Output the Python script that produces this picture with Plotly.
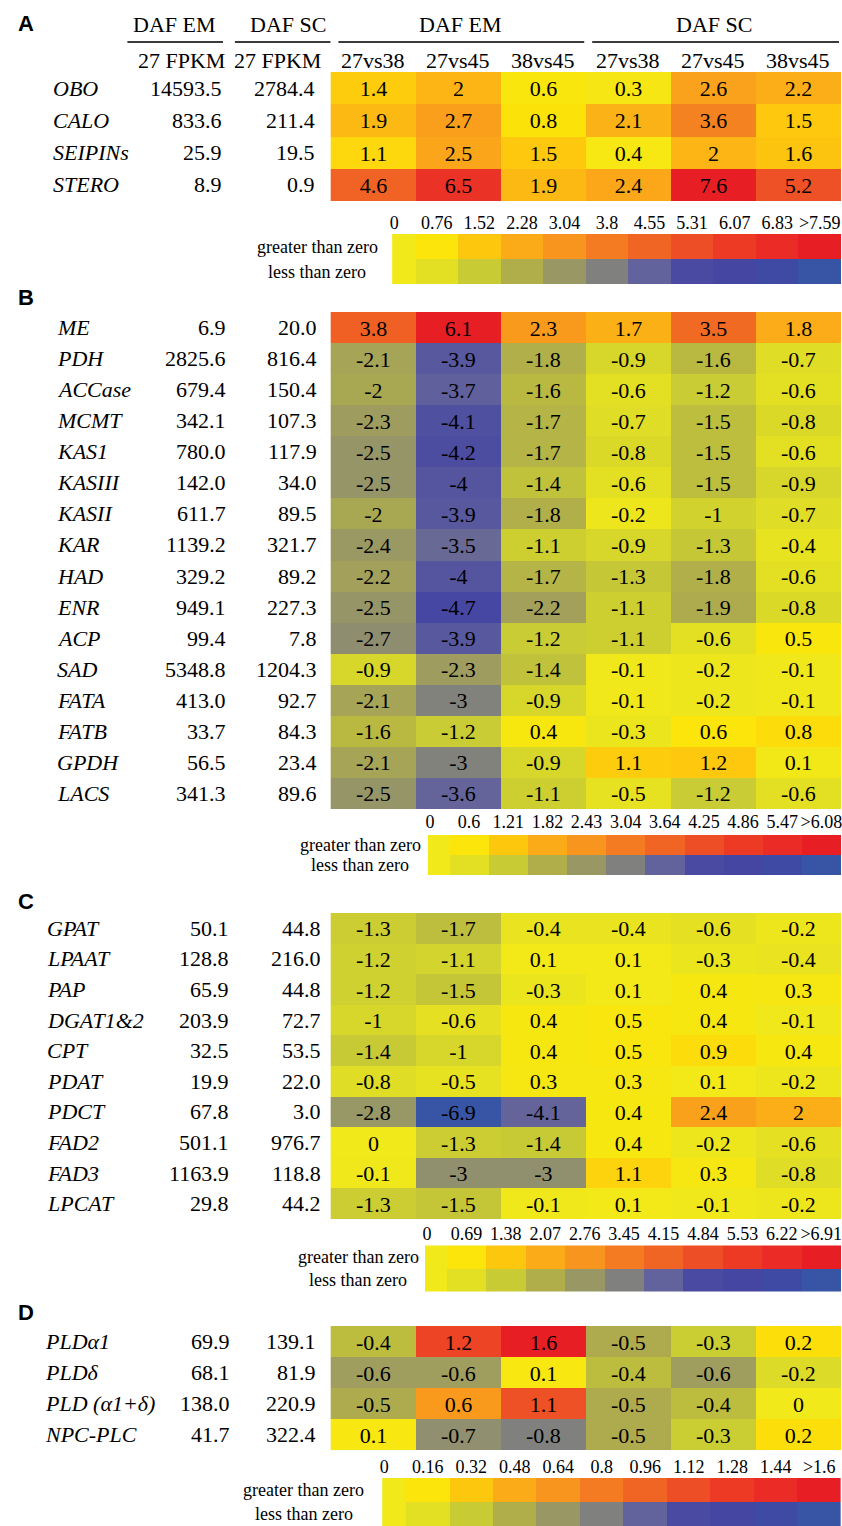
import plotly.graph_objects as go

W, H = 842, 1526
SERIF = "Liberation Serif"
SANS = "Liberation Sans"

# ---------------- data ----------------
groups = ["EM", "EM", "EM", "SC", "SC", "SC"]
cols = ["27vs38", "27vs45", "38vs45", "27vs38", "27vs45", "38vs45"]

a_genes = ["OBO", "CALO", "SEIPINs", "STERO"]
a_em = ["14593.5", "833.6", "25.9", "8.9"]
a_sc = ["2784.4", "211.4", "19.5", "0.9"]
a_vals = [
    [1.4, 2, 0.6, 0.3, 2.6, 2.2],
    [1.9, 2.7, 0.8, 2.1, 3.6, 1.5],
    [1.1, 2.5, 1.5, 0.4, 2, 1.6],
    [4.6, 6.5, 1.9, 2.4, 7.6, 5.2],
]
a_legend = ["0", "0.76", "1.52", "2.28", "3.04", "3.8", "4.55", "5.31", "6.07", "6.83", ">7.59"]

b_genes = ["ME", "PDH", "ACCase", "MCMT", "KAS1", "KASIII", "KASII", "KAR",
           "HAD", "ENR", "ACP", "SAD", "FATA", "FATB", "GPDH", "LACS"]
b_em = ["6.9", "2825.6", "679.4", "342.1", "780.0", "142.0", "611.7", "1139.2",
        "329.2", "949.1", "99.4", "5348.8", "413.0", "33.7", "56.5", "341.3"]
b_sc = ["20.0", "816.4", "150.4", "107.3", "117.9", "34.0", "89.5", "321.7",
        "89.2", "227.3", "7.8", "1204.3", "92.7", "84.3", "23.4", "89.6"]
b_vals = [
    [3.8, 6.1, 2.3, 1.7, 3.5, 1.8],
    [-2.1, -3.9, -1.8, -0.9, -1.6, -0.7],
    [-2, -3.7, -1.6, -0.6, -1.2, -0.6],
    [-2.3, -4.1, -1.7, -0.7, -1.5, -0.8],
    [-2.5, -4.2, -1.7, -0.8, -1.5, -0.6],
    [-2.5, -4, -1.4, -0.6, -1.5, -0.9],
    [-2, -3.9, -1.8, -0.2, -1, -0.7],
    [-2.4, -3.5, -1.1, -0.9, -1.3, -0.4],
    [-2.2, -4, -1.7, -1.3, -1.8, -0.6],
    [-2.5, -4.7, -2.2, -1.1, -1.9, -0.8],
    [-2.7, -3.9, -1.2, -1.1, -0.6, 0.5],
    [-0.9, -2.3, -1.4, -0.1, -0.2, -0.1],
    [-2.1, -3, -0.9, -0.1, -0.2, -0.1],
    [-1.6, -1.2, 0.4, -0.3, 0.6, 0.8],
    [-2.1, -3, -0.9, 1.1, 1.2, 0.1],
    [-2.5, -3.6, -1.1, -0.5, -1.2, -0.6],
]
b_legend = ["0", "0.6", "1.21", "1.82", "2.43", "3.04", "3.64", "4.25", "4.86", "5.47", ">6.08"]

c_genes = ["GPAT", "LPAAT", "PAP", "DGAT1&2", "CPT", "PDAT", "PDCT", "FAD2", "FAD3", "LPCAT"]
c_em = ["50.1", "128.8", "65.9", "203.9", "32.5", "19.9", "67.8", "501.1", "1163.9", "29.8"]
c_sc = ["44.8", "216.0", "44.8", "72.7", "53.5", "22.0", "3.0", "976.7", "118.8", "44.2"]
c_vals = [
    [-1.3, -1.7, -0.4, -0.4, -0.6, -0.2],
    [-1.2, -1.1, 0.1, 0.1, -0.3, -0.4],
    [-1.2, -1.5, -0.3, 0.1, 0.4, 0.3],
    [-1, -0.6, 0.4, 0.5, 0.4, -0.1],
    [-1.4, -1, 0.4, 0.5, 0.9, 0.4],
    [-0.8, -0.5, 0.3, 0.3, 0.1, -0.2],
    [-2.8, -6.9, -4.1, 0.4, 2.4, 2],
    [0, -1.3, -1.4, 0.4, -0.2, -0.6],
    [-0.1, -3, -3, 1.1, 0.3, -0.8],
    [-1.3, -1.5, -0.1, 0.1, -0.1, -0.2],
]
c_legend = ["0", "0.69", "1.38", "2.07", "2.76", "3.45", "4.15", "4.84", "5.53", "6.22", ">6.91"]

d_genes = ["PLDα1", "PLDδ", "PLD (α1+δ)", "NPC-PLC"]
d_em = ["69.9", "68.1", "138.0", "41.7"]
d_sc = ["139.1", "81.9", "220.9", "322.4"]
d_vals = [
    [-0.4, 1.2, 1.6, -0.5, -0.3, 0.2],
    [-0.6, -0.6, 0.1, -0.4, -0.6, -0.2],
    [-0.5, 0.6, 1.1, -0.5, -0.4, 0],
    [0.1, -0.7, -0.8, -0.5, -0.3, 0.2],
]
d_legend = ["0", "0.16", "0.32", "0.48", "0.64", "0.8", "0.96", "1.12", "1.28", "1.44", ">1.6"]

legend_rows = ["greater than zero", "less than zero"]

# colour steps (greater than zero / less than zero), from 0 to max
pos_colors = ["#F2E91A", "#FBE50A", "#FDC70E", "#FBAB18", "#F8951E", "#F47B22",
              "#F06424", "#EE4E25", "#EC3A25", "#EA2B26", "#E81E25"]
neg_colors = ["#F2E91A", "#E3E023", "#C8CB34", "#B0AE4A", "#999865", "#80807F",
              "#62629C", "#4A4AA2", "#4446A2", "#3E4AA3", "#3754A5"]

# ---------------- layout geometry (pixels) ----------------
def px(x):
    return x / W


def py(y):
    return 1 - y / H


n = len(pos_colors) - 1
colorscale = []
for k in range(n, 0, -1):
    colorscale.append([0.5 - 0.5 * k / n, neg_colors[k]])
colorscale.append([0.5, pos_colors[0]])
for k in range(1, n + 1):
    colorscale.append([0.5 + 0.5 * k / n, pos_colors[k]])

col_ids = [g + " " + c for g, c in zip(groups, cols)]

panels = [
    dict(letter="A", letter_y=24, genes=a_genes, em=a_em, sc=a_sc, vals=a_vals, legend=a_legend,
         heat=(72, 201), lab_x=48, em_r=222, sc_r=315, leg_x=(391, 842), leg_y=(234, 284), leg_cx=316),
    dict(letter="B", letter_y=297, genes=b_genes, em=b_em, sc=b_sc, vals=b_vals, legend=b_legend,
         heat=(312, 809), lab_x=52, em_r=226, sc_r=318, leg_x=(427, 842), leg_y=(833, 877), leg_cx=359),
    dict(letter="C", letter_y=901, genes=c_genes, em=c_em, sc=c_sc, vals=c_vals, legend=c_legend,
         heat=(913, 1219), lab_x=42, em_r=229, sc_r=322, leg_x=(424, 842), leg_y=(1245, 1292), leg_cx=357),
    dict(letter="D", letter_y=1312, genes=d_genes, em=d_em, sc=d_sc, vals=d_vals, legend=d_legend,
         heat=(1326, 1450), lab_x=40, em_r=230, sc_r=317, leg_x=(381, 842), leg_y=(1478, 1526), leg_cx=302),
]

HEAT_X = (329, 842)
TXT = 22

fig = go.Figure()
annotations = []
shapes = []
layout_axes = {}

for i, p in enumerate(panels):
    hx = 2 * i + 1
    lx = 2 * i + 2
    hxname = "x" if hx == 1 else f"x{hx}"
    hyname = "y" if hx == 1 else f"y{hx}"
    lxname = f"x{lx}"
    lyname = f"y{lx}"
    legend_vals = [float(s.lstrip(">")) for s in p["legend"]]
    zmax = legend_vals[-1]

    fig.add_trace(go.Heatmap(
        z=p["vals"], x=col_ids, y=p["genes"],
        text=[[f"{v:g}" for v in row] for row in p["vals"]],
        texttemplate="%{text}",
        textfont=dict(family=SERIF, size=TXT, color="black"),
        colorscale=colorscale, zmin=-zmax, zmax=zmax, showscale=False,
        xaxis=hxname, yaxis=hyname, hoverinfo="skip",
    ))
    fig.add_trace(go.Heatmap(
        z=[legend_vals, [-v for v in legend_vals]], x=p["legend"], y=legend_rows,
        colorscale=colorscale, zmin=-zmax, zmax=zmax, showscale=False,
        xaxis=lxname, yaxis=lyname, hoverinfo="skip",
    ))

    hk = "" if hx == 1 else str(hx)
    layout_axes[f"xaxis{hk}"] = dict(domain=[px(HEAT_X[0]), px(HEAT_X[1])], anchor=hyname,
                                     showticklabels=False, showgrid=False, zeroline=False,
                                     type="category", fixedrange=True)
    layout_axes[f"yaxis{hk}"] = dict(domain=[py(p["heat"][1]), py(p["heat"][0])], anchor=hxname,
                                     showticklabels=False, showgrid=False, zeroline=False,
                                     type="category", autorange="reversed", fixedrange=True)
    layout_axes[f"xaxis{lx}"] = dict(domain=[px(p["leg_x"][0]), px(p["leg_x"][1])], anchor=lyname,
                                     side="top", type="category", range=[-0.05, 10.5],
                                     showgrid=False, zeroline=False, ticks="", tickangle=0,
                                     tickfont=dict(family=SERIF, size=18, color="black"),
                                     fixedrange=True)
    layout_axes[f"yaxis{lx}"] = dict(domain=[py(p["leg_y"][1]), py(p["leg_y"][0])], anchor=lxname,
                                     showticklabels=False, showgrid=False, zeroline=False,
                                     type="category", autorange="reversed", fixedrange=True)

    # panel letter
    annotations.append(dict(text=f"<b>{p['letter']}</b>", x=px(13), y=py(p["letter_y"]),
                            xref="paper", yref="paper", xanchor="left", yanchor="middle",
                            showarrow=False, font=dict(family=SANS, size=22, color="black")))
    # row labels and FPKM values
    for g, e, s in zip(p["genes"], p["em"], p["sc"]):
        annotations.append(dict(text=f"<i>{g}</i>", x=px(p["lab_x"]), y=g, xref="paper", yref=hyname,
                                xanchor="left", yanchor="middle", showarrow=False,
                                font=dict(family=SERIF, size=TXT, color="black")))
        annotations.append(dict(text=e, x=px(p["em_r"]), y=g, xref="paper", yref=hyname,
                                xanchor="right", yanchor="middle", showarrow=False,
                                font=dict(family=SERIF, size=TXT, color="black")))
        annotations.append(dict(text=s, x=px(p["sc_r"]), y=g, xref="paper", yref=hyname,
                                xanchor="right", yanchor="middle", showarrow=False,
                                font=dict(family=SERIF, size=TXT, color="black")))
    # legend row labels
    for r in legend_rows:
        annotations.append(dict(text=r, x=px(p["leg_cx"]), y=r, xref="paper", yref=lyname,
                                xanchor="center", yanchor="middle", showarrow=False,
                                font=dict(family=SERIF, size=18, color="black")))

# header of panel A
hdr_font = dict(family=SERIF, size=TXT, color="black")
for txt, x in [("DAF EM", 172), ("DAF SC", 286), ("DAF EM", 460), ("DAF SC", 714)]:
    annotations.append(dict(text=txt, x=px(x), y=py(25), xref="paper", yref="paper",
                            xanchor="center", yanchor="middle", showarrow=False, font=hdr_font))
for x in [179, 276]:
    annotations.append(dict(text="27 FPKM", x=px(x), y=py(61), xref="paper", yref="paper",
                            xanchor="center", yanchor="middle", showarrow=False, font=hdr_font))
for cid, c in zip(col_ids, cols):
    annotations.append(dict(text=c, x=cid, y=py(61), xref="x", yref="paper",
                            xanchor="center", yanchor="middle", showarrow=False, font=hdr_font))
for x0, x1 in [(125, 221), (233, 329), (337, 584), (592, 840)]:
    shapes.append(dict(type="line", x0=px(x0), x1=px(x1), y0=py(42), y1=py(42),
                       xref="paper", yref="paper", line=dict(color="#3a3a3a", width=2)))

fig.update_layout(
    width=W, height=H, autosize=False,
    margin=dict(l=0, r=0, t=0, b=0),
    paper_bgcolor="white", plot_bgcolor="white",
    annotations=annotations, shapes=shapes,
    showlegend=False,
    **layout_axes,
)

fig.write_html("out.html", config={"displayModeBar": False},
               post_script="document.body.style.margin='0';document.body.style.padding='0';")
